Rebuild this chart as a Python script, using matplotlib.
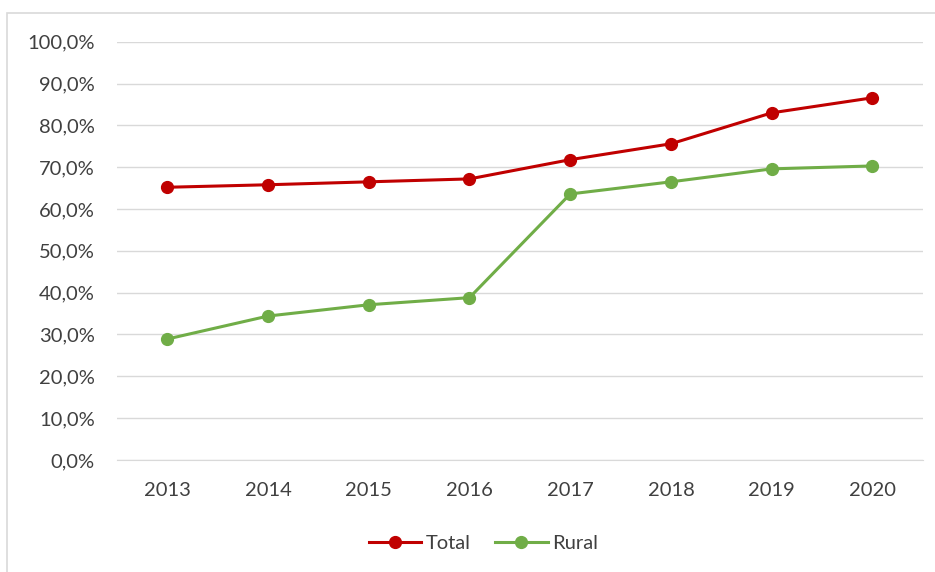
import matplotlib.pyplot as plt
from matplotlib.patches import Rectangle
from matplotlib.ticker import FuncFormatter

years = ['2013', '2014', '2015', '2016', '2017', '2018', '2019', '2020']
total = [65.2, 65.8, 66.5, 67.2, 71.8, 75.6, 83.0, 86.6]
rural = [28.9, 34.4, 37.1, 38.8, 63.6, 66.5, 69.6, 70.3]

plt.rcParams.update({'font.family': ['Lato', 'DejaVu Sans'], 'font.size': 14.5})

fig = plt.figure(figsize=(9.35, 5.72), dpi=100)
fig.patches.append(Rectangle((7 / 935, -0.01), 1.0, 1 - 13 / 572 + 0.01,
                             transform=fig.transFigure, fill=False,
                             edgecolor='#d9d9d9', lw=1.2))
ax = fig.add_axes([0.125, 0.196, 0.862, 0.731])

x = range(len(years))
ax.plot(x, total, color='#c00000', lw=2.2, marker='o', ms=8.5, label='Total')
ax.plot(x, rural, color='#70ad47', lw=2.2, marker='o', ms=8.5, label='Rural')

ax.set_xlim(-0.5, len(years) - 0.5)
ax.set_ylim(0, 100)
ax.set_yticks(range(0, 101, 10))
ax.yaxis.set_major_formatter(FuncFormatter(lambda v, p: f'{v:.1f}%'.replace('.', ',')))
ax.set_xticks(list(x))
ax.set_xticklabels(years)
ax.grid(axis='y', color='#d9d9d9', lw=1)
ax.set_axisbelow(True)
for s in ['top', 'right', 'left']:
    ax.spines[s].set_visible(False)
ax.spines['bottom'].set_color('#d9d9d9')
ax.tick_params(length=0, colors='#404040', labelsize=14.5)
ax.tick_params(axis='x', pad=16)
ax.tick_params(axis='y', pad=16)

ax.legend(loc='center', bbox_to_anchor=(0.455, -0.2), ncol=2, frameon=False,
          fontsize=14.5, handlelength=2.6, handletextpad=0.25,
          columnspacing=1.2, labelcolor='#404040')

plt.savefig('out.png', dpi=100)
